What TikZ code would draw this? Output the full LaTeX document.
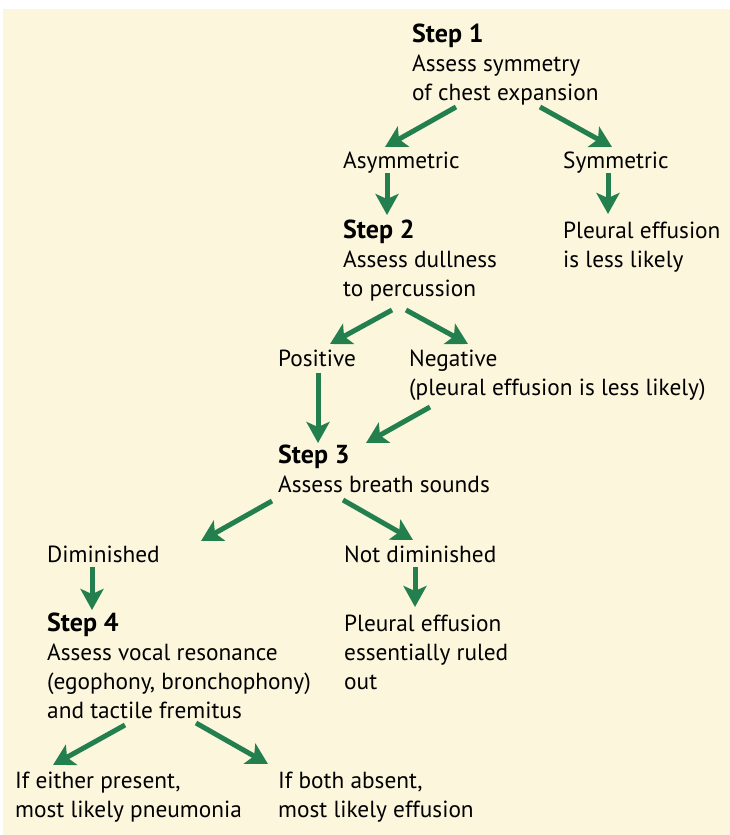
\documentclass[tikz,border=0pt]{standalone}
\usepackage{fontspec}
\setmainfont{PT Sans}
\usetikzlibrary{arrows.meta}

\definecolor{paper}{RGB}{252,246,220}
\definecolor{arrowgreen}{RGB}{35,128,78}
\newcommand{\stepname}[1]{{\fontsize{26}{29}\selectfont\bfseries Step #1}}

\begin{document}
\begin{tikzpicture}[x=1pt,y=-1pt,
    every node/.style={inner sep=0pt,anchor=base west,align=left,
      font=\fontsize{23.3}{29}\selectfont},
    flow/.style={draw=arrowgreen,line width=5pt,
      -{Stealth[length=21pt,width=23pt,inset=5pt]}}]

            % Background panel
            \useasboundingbox (0,0) rectangle (730,835);
            \fill[paper] (3,9) rectangle (730,835);

            % Steps and outcomes (placed at the baseline of their last line)
            \node (s1) at (412,100) {\stepname{1}\\Assess symmetry\\of chest expansion};
            \node (asym) at (343,168) {Asymmetric};
            \node (sym) at (563,168) {Symmetric};
            \node (s2) at (343,296) {\stepname{2}\\Assess dullness\\to percussion};
            \node (pe1) at (563,267) {Pleural effusion\\is less likely};
            \node (pos) at (278,366) {Positive};
            \node (neg) at (409,395) {Negative\\(pleural effusion is less likely)};
            \node (s3) at (278,492) {\stepname{3}\\Assess breath sounds};
            \node (dim) at (47,562) {Diminished};
            \node (notdim) at (344,562) {Not diminished};
            \node (s4) at (47,718) {\stepname{4}\\Assess vocal resonance\\(egophony, bronchophony)\\and tactile fremitus};
            \node (pe2) at (344,689) {Pleural effusion\\essentially ruled\\out};
            \node (either) at (15,817) {If either present,\\most likely pneumonia};
            \node (both) at (278,817) {If both absent,\\most likely effusion};

            % Arrows between them
            \foreach \a/\ax/\ay/\b/\bx/\by in {
            s1/44/7/asym/42/-21,
            s1/128/7/sym/49/-21,
            asym/44/5/s2/44/-81,
            sym/45/5/pe1/45/-53,
            s2/49/14/pos/52/-22,
            s2/63/14/neg/59/-51,
            pos/40/7/s3/40/-49,
            neg/21/12/s3/88/-49,
            s3/-6/9/dim/154/-21,
            s3/65/8/notdim/69/-22,
            dim/45/5/s4/45/-108,
            notdim/71/5/pe2/71/-82,
            s4/78/7/either/38/-52,
            s4/149/5/both/-10/-53} {
            \draw[flow] ([shift={(\ax,\ay)}]\a.base west) -- ([shift={(\bx,\by)}]\b.base west);
            }

\end{tikzpicture}
\end{document}
